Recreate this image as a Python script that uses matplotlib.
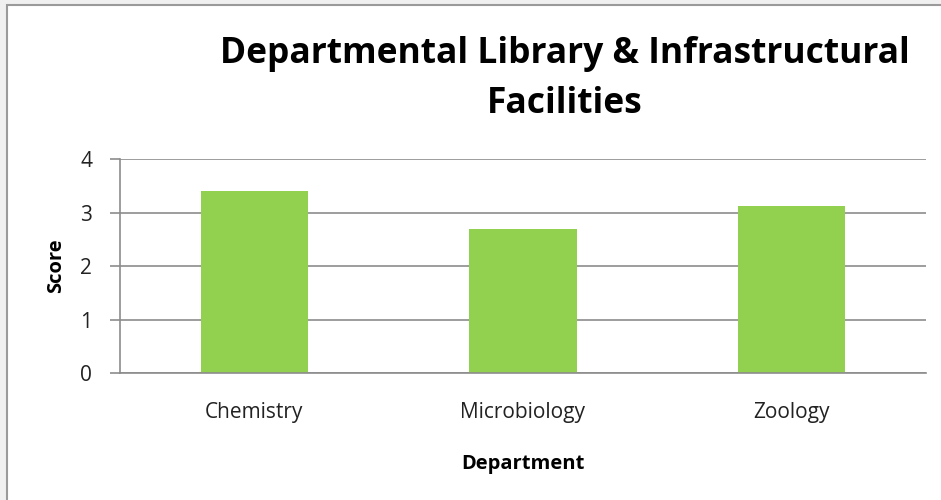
import matplotlib
matplotlib.use("Agg")
import matplotlib.pyplot as plt
from matplotlib.patches import Rectangle

departments = ["Chemistry", "Microbiology", "Zoology"]
scores = [3.41, 2.70, 3.13]
yticks = [0, 1, 2, 3, 4]

W, H = 941, 500
fig = plt.figure(figsize=(W / 100, H / 100), dpi=100)
fig.patch.set_facecolor("#f0f0f0")
# white chart area with gray border
fig.patches.append(Rectangle((7 / W, -0.05), 1.1, (H - 5) / H + 0.05,
                             transform=fig.transFigure, facecolor="white",
                             edgecolor="#9a9a9a", linewidth=1.5, zorder=-10))

ax = fig.add_axes([120 / W, (H - 373.3) / H, (926 - 120) / W, (373.3 - 159) / H])
ax.set_zorder(5)
ax.set_facecolor("none")
x = list(range(len(departments)))
ax.bar(x, scores, width=0.4, color="#92d050", zorder=2)
ax.set_xlim(-0.5, 2.5)
ax.set_ylim(0, 4)
ax.set_yticks(yticks)
ax.set_xticks(x)
ax.set_xticklabels(departments)
ax.grid(axis="y", color="#8c8c8c", linewidth=1.2, zorder=1)
ax.set_axisbelow(True)
for s in ["top", "right"]:
    ax.spines[s].set_visible(False)
ax.spines["left"].set_color("#8c8c8c")
ax.spines["bottom"].set_color("#8c8c8c")
ax.spines["left"].set_linewidth(1.2)
ax.spines["bottom"].set_linewidth(1.2)
ax.tick_params(axis="y", length=7, color="#8c8c8c", width=1.2, pad=13,
               labelsize=15)
ax.tick_params(axis="x", length=0, pad=21, labelsize=15)
for lab in ax.get_xticklabels() + ax.get_yticklabels():
    lab.set_fontfamily("Open Sans")
    lab.set_color("#222222")

ax.set_ylabel("Score", fontsize=14.5, fontweight="bold", fontfamily="Open Sans",
              labelpad=10)
ax.set_xlabel("Department", fontsize=14.5, fontweight="bold", fontfamily="Open Sans",
              labelpad=22)

fig.text(565 / W, 1 - 54 / H, "Departmental Library & Infrastructural",
         ha="center", va="center", fontsize=25.5, fontweight="bold",
         fontfamily="Open Sans")
fig.text(565 / W, 1 - 104 / H, "Facilities",
         ha="center", va="center", fontsize=25.5, fontweight="bold",
         fontfamily="Open Sans")

fig.savefig("out.png", dpi=100)
